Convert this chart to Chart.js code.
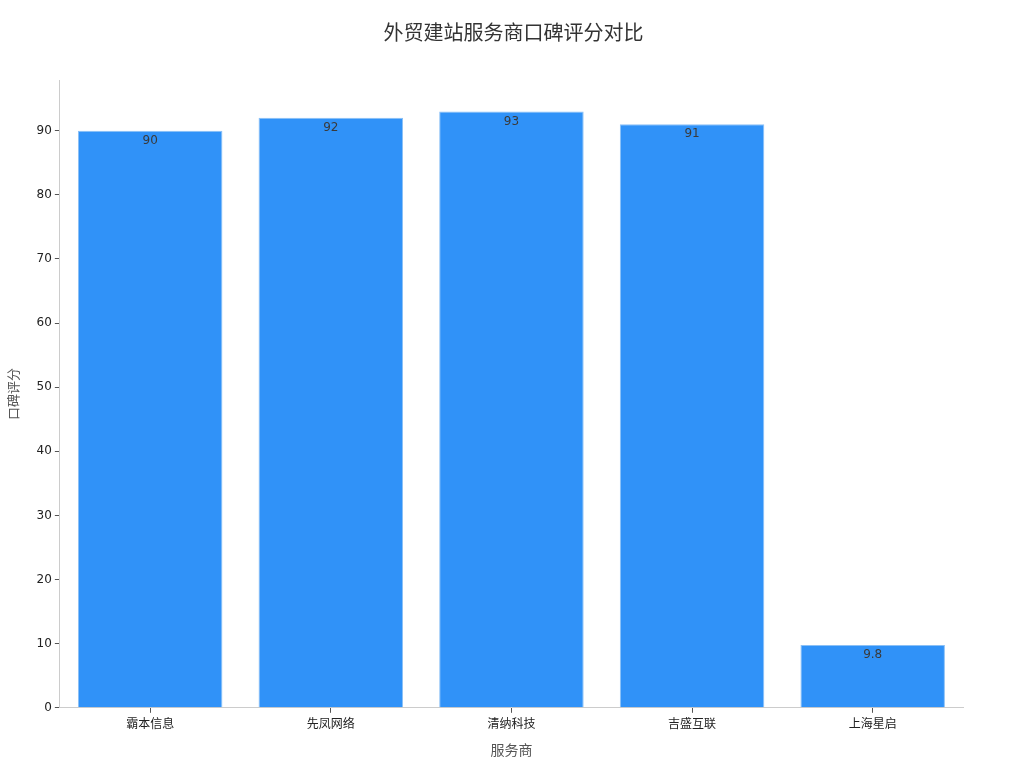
<!DOCTYPE html>
<html>
<head>
<meta charset="utf-8">
<script src="https://cdn.jsdelivr.net/npm/chart.js@4"></script>
<style>
  html, body { margin: 0; padding: 0; background: #fff; }
  #wrap { width: 1024px; height: 768px; }
</style>
</head>
<body>
<div id="wrap"><canvas id="chartCanvas" width="1024" height="768"></canvas></div>
<script>
const providers = ["霸本信息", "先凤网络", "清纳科技", "吉盛互联", "上海星启"];
const scores = [90, 92, 93, 91, 9.8];
const scoreLabels = ["90", "92", "93", "91", "9.8"];

const FONT = "'DejaVu Sans', 'Noto Sans CJK SC', sans-serif";

// value labels just inside the top of each bar
const barLabels = {
  id: "barLabels",
  afterDatasetsDraw: (chart) => {
    const ctx = chart.ctx;
    const meta = chart.getDatasetMeta(0);
    ctx.save();
    ctx.font = "12px " + FONT;
    ctx.fillStyle = "#3a3a3a";
    ctx.textAlign = "center";
    ctx.textBaseline = "middle";
    meta.data.forEach((bar, i) => {
      ctx.fillText(scoreLabels[i], bar.x, bar.y + 10);
    });
    ctx.restore();
  },
};

new Chart(document.getElementById("chartCanvas").getContext("2d"), {
  type: "bar",
  data: {
    labels: providers,
    datasets: [
      {
        label: "口碑评分",
        data: scores,
        backgroundColor: "#3092f8",
        borderColor: "#8ac0f6",
        borderWidth: 1,
        barPercentage: 0.8,
        categoryPercentage: 1.0,
      },
    ],
  },
  options: {
    responsive: false,
    animation: false,
    layout: { padding: { left: 3, right: 0, top: 0, bottom: 4 } },
    plugins: {
      legend: { display: false },
      tooltip: { enabled: false },
      title: {
        display: true,
        text: "外贸建站服务商口碑评分对比",
        color: "#333",
        font: { size: 20, family: FONT, weight: "normal" },
        padding: { top: 23, bottom: 33 },
      },
    },
    scales: {
      x: {
        grid: { drawOnChartArea: false, tickLength: 5, color: "#555", offset: false },
        border: { color: "#ccc" },
        ticks: { color: "#222", font: { size: 12, family: FONT }, padding: 5 },
        title: {
          display: true,
          text: "服务商",
          color: "#555",
          font: { size: 14, family: FONT },
          padding: { top: 6 },
        },
      },
      y: {
        min: 0,
        max: 97.9,
        grid: { drawOnChartArea: false, tickLength: 5, color: "#555" },
        border: { color: "#ccc" },
        ticks: {
          stepSize: 10,
          color: "#222",
          font: { size: 12, family: FONT },
          padding: 3,
        },
        afterBuildTicks: (scale) => {
          scale.ticks = scale.ticks.filter((t) => t.value % 10 === 0);
        },
        title: {
          display: true,
          text: "口碑评分",
          color: "#555",
          font: { size: 13, family: FONT },
          padding: { bottom: 11 },
        },
      },
      // empty right-hand axis that only reserves the right margin
      yRight: {
        position: "right",
        grid: { display: false },
        border: { display: false },
        ticks: { display: false },
        afterFit: (scale) => {
          scale.width = 61;
        },
      },
    },
  },
  plugins: [barLabels],
});
</script>
</body>
</html>
